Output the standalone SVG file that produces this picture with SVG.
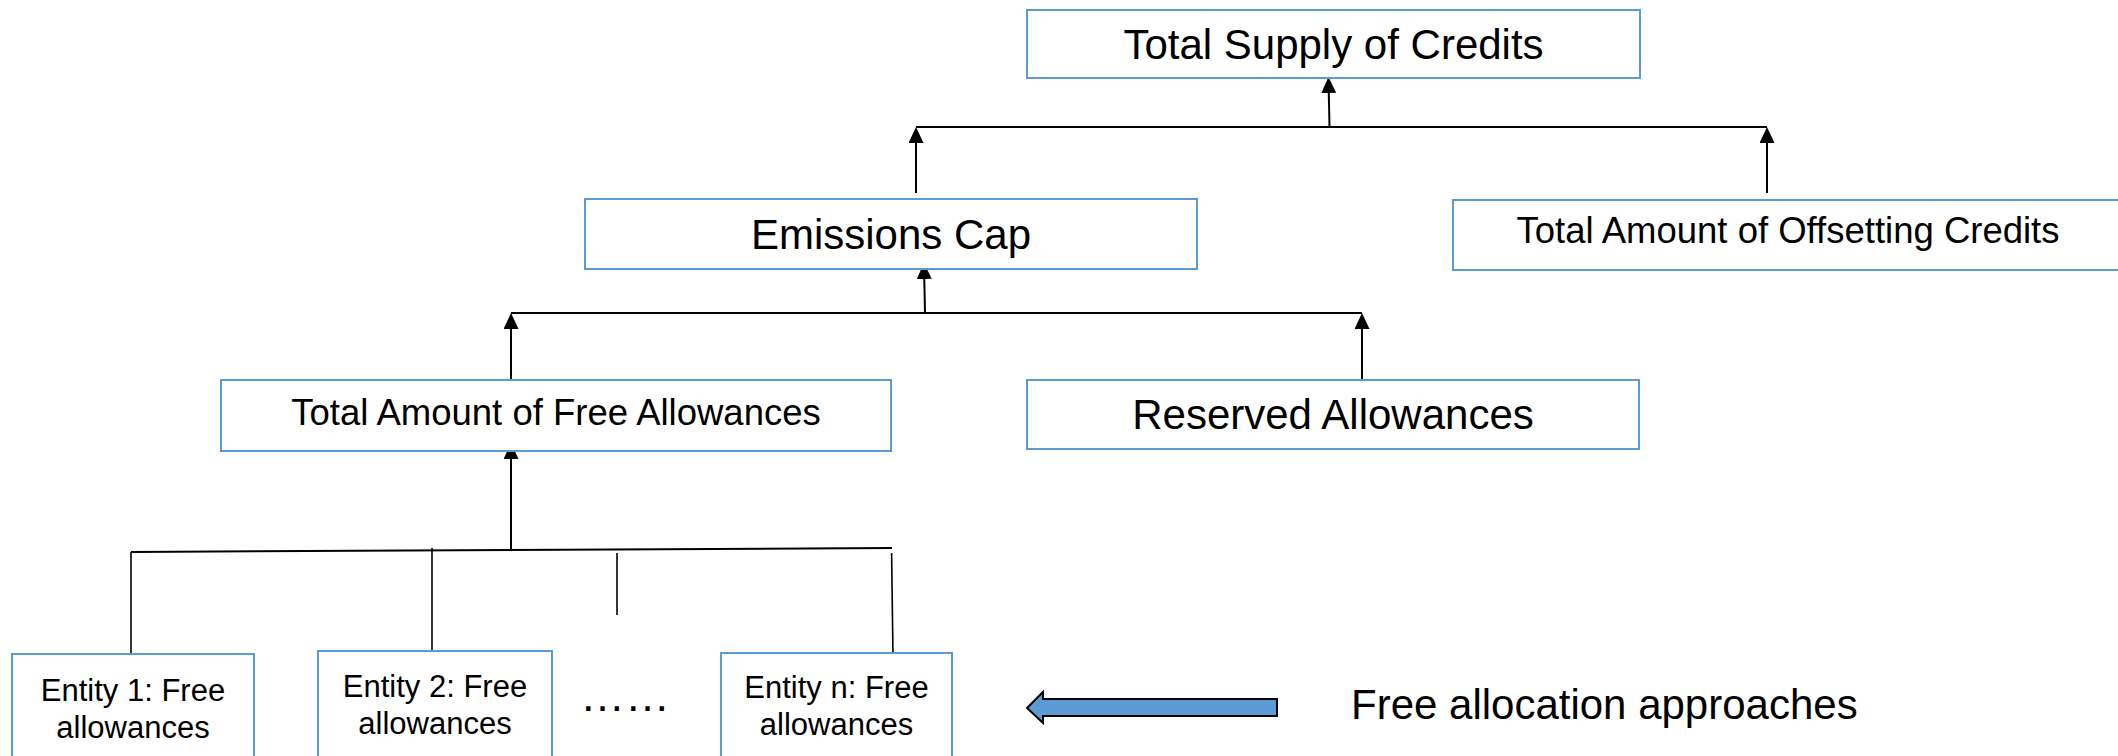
<svg xmlns="http://www.w3.org/2000/svg" width="2118" height="756" viewBox="0 0 2118 756">
<style>
.box{fill:#ffffff;stroke:#5b9bd5;stroke-width:2}
.t{font-family:"Liberation Sans",Arial,sans-serif;fill:#000000;text-anchor:middle}
.ln{stroke:#000000;stroke-width:2;fill:none}
.thin{stroke:#000000;stroke-width:1.6;fill:none}
.arr{stroke:#000000;stroke-width:2;fill:none;marker-end:url(#ah)}
</style>
<defs>
<marker id="ah" markerUnits="userSpaceOnUse" viewBox="0 0 16 15" markerWidth="16" markerHeight="15" refX="13" refY="7.5" orient="auto">
<path d="M0,0 L16,7.5 L0,15 Z" fill="#000000"/>
</marker>
</defs>
<rect width="2118" height="756" fill="#ffffff"/>
<g id="connectors">
<line class="ln" x1="916" y1="127" x2="1767" y2="127"/>
<line class="arr" x1="1329.5" y1="127" x2="1328.5" y2="80"/>
<line class="arr" x1="916" y1="193" x2="916" y2="130"/>
<line class="arr" x1="1767" y1="193" x2="1767" y2="130"/>
<line class="ln" x1="511" y1="313" x2="1362" y2="313"/>
<line class="arr" x1="925" y1="313" x2="924" y2="266"/>
<line class="arr" x1="511" y1="380" x2="511" y2="316"/>
<line class="arr" x1="1362" y1="380" x2="1362" y2="316"/>
<line class="arr" x1="511" y1="550" x2="511" y2="446"/>
<line class="ln" x1="131" y1="552" x2="892" y2="548"/>
<line class="thin" x1="131" y1="552" x2="131" y2="656"/>
<line class="thin" x1="432" y1="548" x2="432" y2="655"/>
<line class="thin" x1="617" y1="553" x2="617" y2="615"/>
<line class="thin" x1="891.6" y1="553" x2="893" y2="656"/>
</g>
<g id="n-total-supply">
<rect class="box" x="1027" y="10" width="613" height="68"/>
<text class="t" x="1333.5" y="59" font-size="42">Total Supply of Credits</text>
</g>
<g id="n-emissions-cap">
<rect class="box" x="585" y="199" width="612" height="70"/>
<text class="t" x="891" y="249" font-size="42">Emissions Cap</text>
</g>
<g id="n-offsetting">
<rect class="box" x="1453" y="200" width="680" height="70"/>
<text class="t" x="1788" y="243" font-size="36.5">Total Amount of Offsetting Credits</text>
</g>
<g id="n-free-allowances">
<rect class="box" x="221" y="380" width="670" height="71"/>
<text class="t" x="556" y="425" font-size="36.5">Total Amount of Free Allowances</text>
</g>
<g id="n-reserved">
<rect class="box" x="1027" y="380" width="612" height="69"/>
<text class="t" x="1333" y="429" font-size="42">Reserved Allowances</text>
</g>
<g id="n-entity-1">
<rect class="box" x="12" y="654" width="242" height="110"/>
<text class="t" x="133" y="701" font-size="31">Entity 1: Free</text>
<text class="t" x="133" y="738" font-size="31">allowances</text>
</g>
<g id="n-entity-2">
<rect class="box" x="318" y="651" width="234" height="113"/>
<text class="t" x="435" y="697" font-size="31">Entity 2: Free</text>
<text class="t" x="435" y="734" font-size="31">allowances</text>
</g>
<g id="n-dots">
<text class="t" x="625" y="711" font-size="45">……</text>
</g>
<g id="n-entity-n">
<rect class="box" x="721" y="653" width="231" height="111"/>
<text class="t" x="836.5" y="698" font-size="31">Entity n: Free</text>
<text class="t" x="836.5" y="735" font-size="31">allowances</text>
</g>
<g id="n-legend">
<path d="M1027,708 L1043,692 L1043,699 L1277,699 L1277,716 L1043,716 L1043,723 Z" fill="#5b9bd5" stroke="#000000" stroke-width="2" stroke-linejoin="miter"/>
<text x="1351" y="719" font-size="42" font-family="Liberation Sans, Arial, sans-serif" fill="#000000">Free allocation approaches</text>
</g>
</svg>
